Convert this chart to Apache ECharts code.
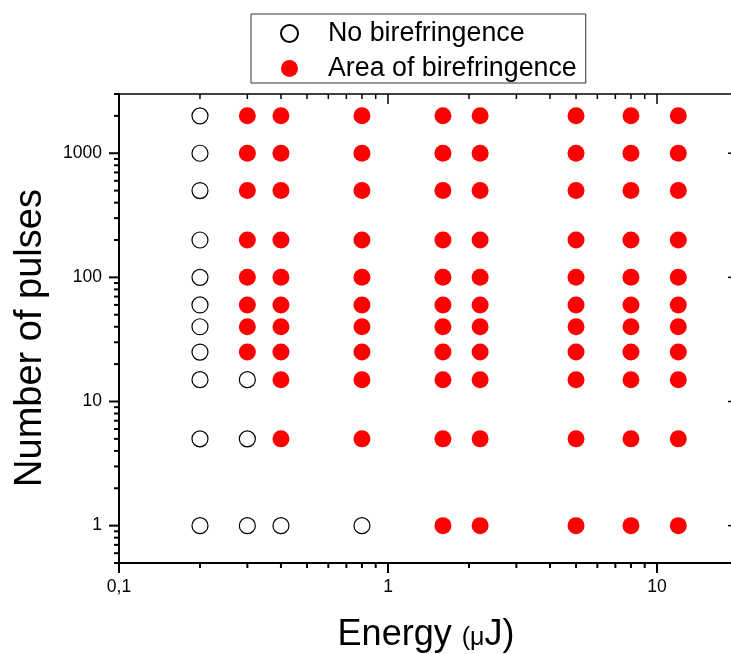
<!DOCTYPE html>
<html>
<head>
<meta charset="utf-8">
<script src="https://cdn.jsdelivr.net/npm/echarts@6/dist/echarts.min.js"></script>
<style>
  html, body { margin: 0; padding: 0; background: #fff; overflow: hidden; }
  #chart { width: 746px; height: 654px; }
</style>
</head>
<body>
<div id="chart"></div>
<script>
// Laser pulse energy (µJ) vs. number of pulses: where birefringence was observed
const seriesNames = ['No birefringence', 'Area of birefringence'];

// [energy µJ, number of pulses]
const noBirefringence = [
  [0.2, 2000], [0.2, 1000], [0.2, 500], [0.2, 200], [0.2, 100], [0.2, 60],
  [0.2, 40], [0.2, 25], [0.2, 15], [0.2, 5], [0.2, 1],
  [0.3, 15], [0.3, 5], [0.3, 1],
  [0.4, 1],
  [0.8, 1]
];

const birefringence = [
  [0.3, 2000], [0.3, 1000], [0.3, 500], [0.3, 200], [0.3, 100], [0.3, 60], [0.3, 40], [0.3, 25],
  [0.4, 2000], [0.4, 1000], [0.4, 500], [0.4, 200], [0.4, 100], [0.4, 60], [0.4, 40], [0.4, 25], [0.4, 15], [0.4, 5],
  [0.8, 2000], [0.8, 1000], [0.8, 500], [0.8, 200], [0.8, 100], [0.8, 60], [0.8, 40], [0.8, 25], [0.8, 15], [0.8, 5],
  [1.6, 2000], [1.6, 1000], [1.6, 500], [1.6, 200], [1.6, 100], [1.6, 60], [1.6, 40], [1.6, 25], [1.6, 15], [1.6, 5], [1.6, 1],
  [2.2, 2000], [2.2, 1000], [2.2, 500], [2.2, 200], [2.2, 100], [2.2, 60], [2.2, 40], [2.2, 25], [2.2, 15], [2.2, 5], [2.2, 1],
  [5, 2000], [5, 1000], [5, 500], [5, 200], [5, 100], [5, 60], [5, 40], [5, 25], [5, 15], [5, 5], [5, 1],
  [8, 2000], [8, 1000], [8, 500], [8, 200], [8, 100], [8, 60], [8, 40], [8, 25], [8, 15], [8, 5], [8, 1],
  [12, 2000], [12, 1000], [12, 500], [12, 200], [12, 100], [12, 60], [12, 40], [12, 25], [12, 15], [12, 5], [12, 1]
];

// Axis ranges and tick positions
const xRange = [0.1, 20];
const yRange = [0.5, 3000];
const xMajorTicks = [0.1, 1, 10];
const xMinorTicks = [0.2, 0.3, 0.4, 0.5, 0.6, 0.7, 0.8, 0.9, 2, 3, 4, 5, 6, 7, 8, 9, 20];
const yMajorTicks = [1, 10, 100, 1000];
const yMinorTicks = [0.5, 0.6, 0.7, 0.8, 0.9, 2, 3, 4, 5, 6, 7, 8, 9,
  20, 30, 40, 50, 60, 70, 80, 90, 200, 300, 400, 500, 600, 700, 800, 900, 2000, 3000];

const FONT = '"Liberation Sans", Arial, Helvetica, sans-serif';

function isDecade(v) {
  const l = Math.log10(v);
  return Math.abs(l - Math.round(l)) < 1e-6;
}

// Ticks on the x axes: outward at the bottom, inward at the top
function xTickRenderer(len, width) {
  return function (params, api) {
    const x = api.coord([api.value(0), 1])[0];
    const cs = params.coordSys;
    const yb = cs.y + cs.height;
    const yt = cs.y;
    return {
      type: 'group',
      children: [
        { type: 'line', shape: { x1: x, y1: yb, x2: x, y2: yb + len }, style: { stroke: '#000', lineWidth: width } },
        { type: 'line', shape: { x1: x, y1: yt, x2: x, y2: yt + len }, style: { stroke: '#000', lineWidth: width * 0.75 } }
      ]
    };
  };
}

// Ticks on the y axes: outward on the left, inward on the right
function yTickRenderer(len, width) {
  return function (params, api) {
    const y = api.coord([1, api.value(1)])[1];
    const cs = params.coordSys;
    const xl = cs.x;
    const xr = cs.x + cs.width;
    return {
      type: 'group',
      children: [
        { type: 'line', shape: { x1: xl - len, y1: y, x2: xl, y2: y }, style: { stroke: '#000', lineWidth: width } },
        { type: 'line', shape: { x1: xr - len, y1: y, x2: xr, y2: y }, style: { stroke: '#000', lineWidth: width * 0.75 } }
      ]
    };
  };
}

function tickSeries(values, horizontal, len, width) {
  return {
    type: 'custom',
    xAxisIndex: 0,
    yAxisIndex: 0,
    silent: true,
    clip: false,
    z: 5,
    data: values.map(v => horizontal ? [v, 1] : [1, v]),
    renderItem: horizontal ? xTickRenderer(len, width) : yTickRenderer(len, width)
  };
}

const chart = echarts.init(document.getElementById('chart'), null, { renderer: 'canvas' });

chart.setOption({
  animation: false,
  backgroundColor: '#fff',
  textStyle: { fontFamily: FONT, color: '#000' },
  grid: { left: 119, top: 94, width: 619, height: 469, containLabel: false },
  legend: {
    data: seriesNames,
    orient: 'vertical',
    left: 251,
    top: 14,
    padding: [6, 9, 1, 29],
    itemGap: 8,
    itemWidth: 17,
    itemHeight: 17,
    borderColor: '#333',
    borderWidth: 1,
    borderRadius: 0,
    selectedMode: false,
    textStyle: { fontFamily: FONT, fontSize: 26.8, color: '#000', padding: [0, 0, 0, 25], lineHeight: 26 }
  },
  xAxis: [
    {
      type: 'log', logBase: 10, min: xRange[0], max: xRange[1], position: 'bottom',
      axisLine: { show: true, lineStyle: { color: '#000', width: 2 } },
      axisTick: { show: false },
      splitLine: { show: false },
      axisLabel: {
        show: true, margin: 15, fontSize: 17.5, color: '#000', fontFamily: FONT,
        showMaxLabel: false,
        formatter: v => isDecade(v) ? String(+v.toPrecision(6)).replace('.', ',') : ''
      }
    },
    {
      type: 'log', logBase: 10, min: xRange[0], max: xRange[1], position: 'top',
      axisLine: { show: true, lineStyle: { color: '#000', width: 1.5 } },
      axisTick: { show: false }, axisLabel: { show: false }, splitLine: { show: false }
    }
  ],
  yAxis: [
    {
      type: 'log', logBase: 10, min: yRange[0], max: yRange[1], position: 'left',
      axisLine: { show: true, lineStyle: { color: '#000', width: 2 } },
      axisTick: { show: false },
      splitLine: { show: false },
      axisLabel: {
        show: true, margin: 17, fontSize: 17.5, color: '#000', fontFamily: FONT,
        formatter: v => isDecade(v) ? String(Math.round(v)) : ''
      }
    },
    {
      type: 'log', logBase: 10, min: yRange[0], max: yRange[1], position: 'right',
      axisLine: { show: true, lineStyle: { color: '#000', width: 1.5 } },
      axisTick: { show: false }, axisLabel: { show: false }, splitLine: { show: false }
    }
  ],
  graphic: [
    {
      type: 'text',
      x: 31, y: 338,
      rotation: Math.PI / 2,
      style: {
        text: 'Number of pulses',
        font: '38px ' + FONT,
        fill: '#000',
        align: 'center',
        verticalAlign: 'middle'
      }
    },
    {
      type: 'text',
      x: 426, y: 653,
      style: {
        text: '{a|Energy }{b|(μ}{a|J)}',
        fill: '#000',
        align: 'center',
        verticalAlign: 'bottom',
        rich: {
          a: { fontSize: 36, fontFamily: FONT, fill: '#000', verticalAlign: 'bottom', lineHeight: 40 },
          b: { fontSize: 25, fontFamily: FONT, fill: '#000', verticalAlign: 'bottom', lineHeight: 40, padding: [0, 0, 2, 0] }
        }
      }
    }
  ],
  series: [
    {
      name: seriesNames[0],
      type: 'scatter',
      data: noBirefringence,
      symbol: 'circle',
      symbolSize: 16,
      itemStyle: { color: '#fff', borderColor: '#000', borderWidth: 1.2, opacity: 1 },
      z: 3
    },
    {
      name: seriesNames[1],
      type: 'scatter',
      data: birefringence,
      symbol: 'circle',
      symbolSize: 17,
      itemStyle: { color: '#ff0000', borderWidth: 0, opacity: 1 },
      z: 3
    },
    tickSeries(xMajorTicks, true, 10, 2),
    tickSeries(xMinorTicks, true, 5, 2),
    tickSeries(yMajorTicks, false, 10, 2),
    tickSeries(yMinorTicks, false, 5, 2)
  ]
});
</script>
</body>
</html>
